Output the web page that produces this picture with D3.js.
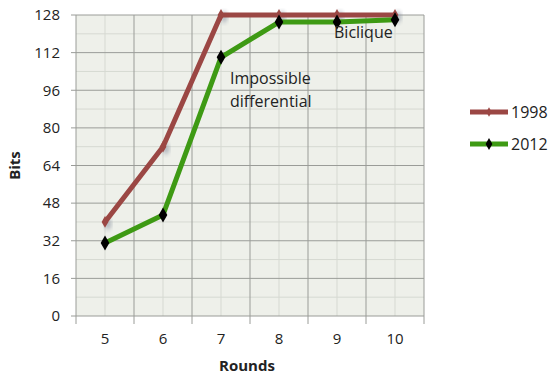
<!DOCTYPE html>
<html>
<head>
<meta charset="utf-8">
<script src="https://cdn.jsdelivr.net/npm/d3@7"></script>
<style>
  body { margin: 0; background: #fff; }
  svg { font-family: "Open Sans", "Noto Sans", sans-serif; }
</style>
</head>
<body>
<svg id="chart"></svg>
<script>
// data
const rounds = [5, 6, 7, 8, 9, 10];
const bits1998 = [40, 72, 128, 128, 128, 128];
const bits2012 = [31, 43, 110, 125, 125, 126];
const yTicks = [0, 16, 32, 48, 64, 80, 96, 112, 128];
const seriesNames = ["1998", "2012"];

const width = 551, height = 376;
const margin = { top: 15, right: 127, bottom: 60, left: 76 };
const w = width - margin.left - margin.right;
const h = height - margin.top - margin.bottom;

const svg = d3.select("#chart").attr("width", width).attr("height", height);
const g = svg.append("g").attr("transform", `translate(${margin.left},${margin.top})`);

const x = d3.scaleBand().domain(rounds).range([0, w]);
const y = d3.scaleLinear().domain([0, 128]).range([h, 0]);
const cx = (d) => x(d) + x.bandwidth() / 2;

// plot background
g.append("rect").attr("width", w).attr("height", h).attr("fill", "#eef0ea");

// minor grid
const minorY = d3.range(8, 128, 16);
g.selectAll("line.minor-y").data(minorY).join("line")
  .attr("x1", 0).attr("x2", w)
  .attr("y1", (d) => y(d)).attr("y2", (d) => y(d))
  .attr("stroke", "#d6d9d2").attr("stroke-width", 1);
g.selectAll("line.minor-x").data(rounds).join("line")
  .attr("x1", cx).attr("x2", cx)
  .attr("y1", 0).attr("y2", h)
  .attr("stroke", "#d6d9d2").attr("stroke-width", 1);

// major grid
g.selectAll("line.major-y").data(yTicks).join("line")
  .attr("x1", -5).attr("x2", w)
  .attr("y1", (d) => y(d)).attr("y2", (d) => y(d))
  .attr("stroke", "#9a9c98").attr("stroke-width", 1);
const bounds = rounds.map((d) => x(d)).concat([w]);
g.selectAll("line.major-x").data(bounds).join("line")
  .attr("x1", (d) => d).attr("x2", (d) => d)
  .attr("y1", 0).attr("y2", h + 8)
  .attr("stroke", "#9a9c98").attr("stroke-width", 1);

// axes labels
const yAxis = g.append("g").call(d3.axisLeft(y).tickValues(yTicks).tickSize(0).tickPadding(16));
yAxis.select(".domain").remove();
yAxis.selectAll("text").attr("font-size", 15).attr("fill", "#222").attr("font-family", "Open Sans, sans-serif");

const xAxis = g.append("g").attr("transform", `translate(0,${h})`)
  .call(d3.axisBottom(x).tickSize(0).tickPadding(17));
xAxis.select(".domain").remove();
xAxis.selectAll("text").attr("font-size", 15).attr("fill", "#222").attr("font-family", "Open Sans, sans-serif");

svg.append("text")
  .attr("transform", `translate(20,${margin.top + h / 2}) rotate(-90)`)
  .attr("text-anchor", "middle")
  .attr("font-size", 15).attr("font-weight", "bold").attr("fill", "#222")
  .text("Bits");
svg.append("text")
  .attr("x", margin.left + w / 2 - 3).attr("y", 371)
  .attr("text-anchor", "middle")
  .attr("font-size", 15).attr("font-weight", "bold").attr("fill", "#222")
  .text("Rounds");

// lines
const line = d3.line().x((d, i) => cx(rounds[i])).y((d) => y(d));
const c1998 = "#9b4744", c2012 = "#3e9a14";

// shadow for 1998 markers
const defs = svg.append("defs");
defs.append("filter").attr("id", "blur").append("feGaussianBlur").attr("stdDeviation", 2);

g.selectAll("path.shadow").data(bits1998).join("path")
  .attr("d", d3.symbol(d3.symbolDiamond, 60)())
  .attr("transform", (d, i) => `translate(${cx(rounds[i]) + 3},${y(d) + 2})`)
  .attr("fill", "#8890a0").attr("opacity", 0.6).attr("filter", "url(#blur)");

g.append("path").datum(bits1998).attr("d", line)
  .attr("fill", "none").attr("stroke", c1998).attr("stroke-width", 5).attr("stroke-linejoin", "round");
g.selectAll("path.m1998").data(bits1998).join("path")
  .attr("d", d3.symbol(d3.symbolDiamond, 40)())
  .attr("transform", (d, i) => `translate(${cx(rounds[i])},${y(d)})`)
  .attr("fill", c1998);

g.append("path").datum(bits2012).attr("d", line)
  .attr("fill", "none").attr("stroke", c2012).attr("stroke-width", 5).attr("stroke-linejoin", "round");
g.selectAll("path.m2012").data(bits2012).join("path")
  .attr("d", d3.symbol(d3.symbolDiamond, 65)())
  .attr("transform", (d, i) => `translate(${cx(rounds[i])},${y(d)})`)
  .attr("fill", "#000");

// annotations
const ann = g.append("g").attr("font-size", 16).attr("fill", "#222");
ann.append("text").attr("x", cx(7) + 9).attr("y", y(110) + 27).text("Impossible");
ann.append("text").attr("x", cx(7) + 9).attr("y", y(110) + 50).text("differential");
ann.append("text").attr("x", cx(9) - 3).attr("y", y(125) + 16).text("Biclique");

// legend
const legend = svg.append("g").attr("transform", "translate(470,112)");
const colors = [c1998, c2012];
const markerFill = [c1998, "#000"];
seriesNames.forEach((name, i) => {
  const row = legend.append("g").attr("transform", `translate(0,${i * 32})`);
  row.append("line").attr("x1", 0).attr("x2", 38).attr("stroke", colors[i]).attr("stroke-width", 5);
  row.append("path").attr("d", d3.symbol(d3.symbolDiamond, i ? 40 : 25)())
    .attr("transform", "translate(19,0)").attr("fill", markerFill[i]);
  row.append("text").attr("x", 41).attr("y", 6).attr("font-size", 16).attr("fill", "#222").text(name);
});
</script>
</body>
</html>
